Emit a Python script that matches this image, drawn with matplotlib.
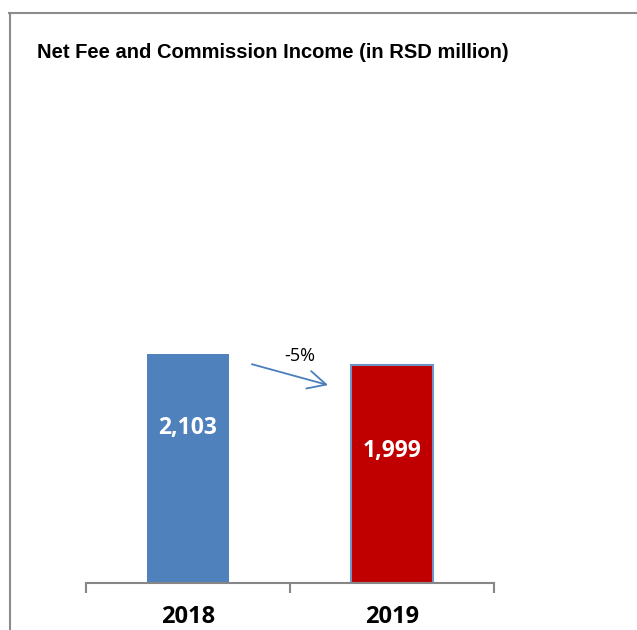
import matplotlib
matplotlib.use("Agg")
import matplotlib.pyplot as plt
from matplotlib.lines import Line2D
from matplotlib.ticker import FixedLocator

years = ["2018", "2019"]
income = [2103, 1999]
bar_colors = ["#4F81BD", "#C00000"]
label_pos = [0.676, 0.606]  # label height as a share of the bar

fig = plt.figure(figsize=(6.37, 6.30), dpi=100, facecolor="white")
W, H = 637, 630
ax = fig.add_axes([86 / W, (H - 583) / H, (494 - 86) / W, (583 - 147) / H])

x = range(len(years))
bars = ax.bar(x, income, width=0.4, color=bar_colors)
bars[1].set_edgecolor("#6F95C8")
bars[1].set_linewidth(1.5)

ax.set_xlim(-0.5, len(years) - 0.5)
ax.set_ylim(0, 4000)

for s in ["top", "right", "left"]:
    ax.spines[s].set_visible(False)
ax.spines["bottom"].set_color("#868686")
ax.spines["bottom"].set_linewidth(1.5)
ax.set_yticks([])

ax.set_xticks(list(x))
ax.set_xticklabels(years, fontfamily="Open Sans", fontweight="bold", fontsize=17)
ax.tick_params(axis="x", which="major", length=0, pad=16)
ax.xaxis.set_minor_locator(FixedLocator([-0.5, 0.5, 1.5]))
ax.tick_params(axis="x", which="minor", length=7, width=1.5, color="#868686",
               direction="out")

for xi, v, f in zip(x, income, label_pos):
    ax.text(xi, v * f, f"{v:,}", ha="center", va="center", color="white",
            fontfamily="Open Sans", fontweight="bold", fontsize=16.5)

# change between the two years
change = income[1] / income[0] - 1
ax.annotate("", xy=(0.70, income[1] - 190), xytext=(0.30, income[1] + 15),
            arrowprops=dict(arrowstyle="->,head_length=1.3,head_width=0.65",
                            color="#4A7EBB", lw=1.3))
ax.text(0.55, income[0] - 20, f"{change:.0%}", ha="center", va="center",
        fontfamily="Open Sans", fontsize=13, color="black")

fig.text(37 / W, 1 - 52 / H, "Net Fee and Commission Income (in RSD million)",
         ha="left", va="center", fontsize=14.5, fontweight="bold",
         fontfamily="Liberation Sans")

# frame around the chart area
fig.add_artist(Line2D([9.5 / W, 9.5 / W], [0, 1 - 13 / H], color="#8C8C8C",
                      lw=1.5, transform=fig.transFigure))
fig.add_artist(Line2D([9 / W, 1], [1 - 13 / H, 1 - 13 / H], color="#8C8C8C",
                      lw=1.5, transform=fig.transFigure))

fig.savefig("out.png", dpi=100, facecolor="white")
